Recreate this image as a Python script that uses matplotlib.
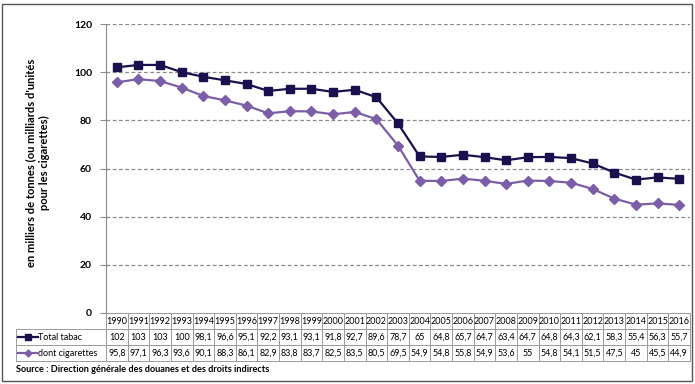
import matplotlib
matplotlib.use("Agg")
import matplotlib.pyplot as plt
from matplotlib.lines import Line2D
from matplotlib.patches import Rectangle

plt.rcParams['font.family'] = ['Lato', 'DejaVu Sans']

years = [str(y) for y in range(1990, 2017)]
total_tabac = [102, 103, 103, 100, 98.1, 96.6, 95.1, 92.2, 93.1, 93.1, 91.8, 92.7, 89.6, 78.7,
               65, 64.8, 65.7, 64.7, 63.4, 64.7, 64.8, 64.3, 62.1, 58.3, 55.4, 56.3, 55.7]
cigarettes = [95.8, 97.1, 96.3, 93.6, 90.1, 88.3, 86.1, 82.9, 83.8, 83.7, 82.5, 83.5, 80.5, 69.5,
              54.9, 54.8, 55.8, 54.9, 53.6, 55, 54.8, 54.1, 51.5, 47.5, 45, 45.5, 44.9]
series_names = ["Total tabac", "dont cigarettes"]
colors = ["#1c0f4d", "#7b5ea7"]
ylabel_lines = ["en milliers de tonnes (ou milliards d'unités", "pour les cigarettes)"]

def fmt(v):
    return ("%g" % v).replace(".", ",")

W, H = 695, 384
fig = plt.figure(figsize=(W / 100, H / 100), dpi=100)
ax = fig.add_axes([106 / W, 1 - 313 / H, (690 - 106) / W, (313 - 24) / H])

x = list(range(len(years)))
ax.plot(x, total_tabac, color=colors[0], lw=1.6, marker='s', ms=5.5, zorder=3)
ax.plot(x, cigarettes, color=colors[1], lw=1.6, marker='D', ms=5, zorder=3)

ax.set_xlim(-0.5, len(years) - 0.5)
ax.set_ylim(0, 120)
ax.set_yticks(range(0, 121, 20))
for v in range(20, 121, 20):
    ax.axhline(v, color='#8a8a8a', lw=0.9, ls=(0, (3, 2)), zorder=1)
ax.set_xticks([])
for s in ['top', 'right', 'bottom']:
    ax.spines[s].set_visible(False)
ax.spines['left'].set_color('#8a8a8a')
ax.tick_params(axis='y', length=4, color='#8a8a8a', labelsize=7.5, pad=6)
for lbl in ax.get_yticklabels():
    lbl.set_fontweight('bold')

# two-line y label, each line centred on the same point
for i, line in enumerate(ylabel_lines):
    fig.text((31 + 13 * i) / W, 1 - 163 / H, line, rotation=90, ha='center', va='center',
             fontsize=8, fontweight='bold')

# data table below the axes
cell_text = [[""] + years,
             [series_names[0]] + [fmt(v) for v in total_tabac],
             [series_names[1]] + [fmt(v) for v in cigarettes]]
left = (16 - 106) / 584
width = (690 - 16) / 584
label_w = 90 / 674
col_w = (1 - label_w) / len(years)
tbl = ax.table(cellText=cell_text, colWidths=[label_w] + [col_w] * len(years),
               bbox=[left, -48 / 289, width, 48 / 289], cellLoc='center')
tbl.auto_set_font_size(False)
tbl.set_fontsize(6.5)
for (r, c), cell in tbl.get_celld().items():
    cell.set_edgecolor('#9a9a9a')
    cell.set_linewidth(0.7)
    cell.PAD = 0.02
    if c == 0:
        cell.PAD = 0.24
        cell._loc = 'left'
        cell.get_text().set_ha('left')
    if r == 0 and c == 0:
        cell.visible_edges = ''

# legend keys inside the row-label cells
for i, (col, mk, msz) in enumerate([(colors[0], 's', 4), (colors[1], 'D', 3.5)]):
    yy = 1 - (337 + 16 * i) / H
    fig.add_artist(Line2D([18 / W, 28 / W, 38 / W], [yy, yy, yy], color=col, lw=1.6,
                          marker=mk, ms=msz, markevery=[1], transform=fig.transFigure))

fig.text(16 / W, 1 - 369 / H, "Source : Direction générale des douanes et des droits indirects",
         fontsize=6.6, fontweight='bold', va='center', ha='left')

fig.add_artist(Rectangle((2 / W, 3 / H), 690 / W, 377 / H, transform=fig.transFigure,
                         fill=False, edgecolor='#555555', lw=1.0))

fig.savefig("out.png", dpi=100)
